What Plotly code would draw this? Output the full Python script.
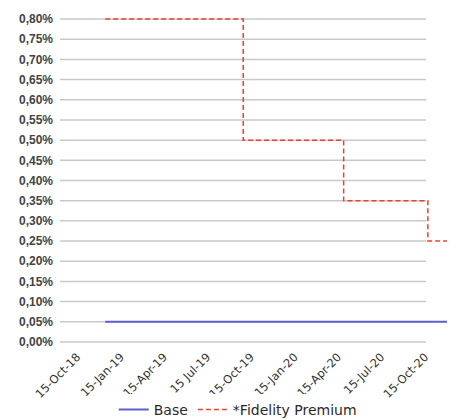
import plotly.graph_objects as go

# ---- data ----
tick_dates = ["2018-10-15", "2019-01-15", "2019-04-15", "2019-07-15", "2019-10-15",
              "2020-01-15", "2020-04-15", "2020-07-15", "2020-10-15"]
tick_labels = ["15-Oct-18", "15-Jan-19", "15-Apr-19", "15 Jul-19", "15-Oct-19",
               "15-Jan-20", "15-Apr-20", "15-Jul-20", "15-Oct-20"]

base_dates = ["2018-12-13", "2020-12-17"]
base_values = [0.0005, 0.0005]

fidelity_dates = ["2018-12-13", "2019-09-29", "2020-04-27", "2020-10-21", "2020-12-17"]
fidelity_values = [0.0080, 0.0050, 0.0035, 0.0025, 0.0025]

y_ticks = [i * 0.0005 for i in range(17)]

fig = go.Figure()
fig.add_trace(go.Scatter(x=base_dates, y=base_values, name="Base", mode="lines",
                         line=dict(color="#5b5fcf", width=2)))
fig.add_trace(go.Scatter(x=fidelity_dates, y=fidelity_values, name="*Fidelity Premium",
                         mode="lines",
                         line=dict(color="#e8412c", width=1.5, dash="5px,3px", shape="hv")))

shapes = []
for v in y_ticks:
    shapes.append(dict(type="line", xref="paper", yref="y", x0=0, x1=0.927, y0=v, y1=v,
                       line=dict(color="#c9c9c9", width=1.5), layer="below"))

fig.update_layout(
    width=447, height=411, autosize=False,
    margin=dict(l=52, r=0, t=6, b=72, autoexpand=False),
    paper_bgcolor="white", plot_bgcolor="white",
    separators=",.",
    shapes=shapes,
    showlegend=True,
    legend=dict(orientation="h", x=0.45, xanchor="center", yref="container", y=0.022,
                yanchor="middle", font=dict(family="DejaVu Sans", size=14, color="#2a2a2a"),
                itemwidth=30),
    xaxis=dict(type="date", range=["2018-09-09", "2020-12-17"], tickvals=tick_dates,
               ticktext=tick_labels, tickangle=-45, showgrid=False, zeroline=False,
               showline=False, ticks="", automargin=False,
               tickfont=dict(family="DejaVu Sans", size=11.5, color="#333333")),
    yaxis=dict(range=[-0.000124, 0.008124], tickvals=y_ticks, tickformat=".2%",
               showgrid=False, zeroline=False, showline=False, ticks="", automargin=False,
               ticklabelstandoff=6,
               tickfont=dict(family="Liberation Sans", size=12, color="#444444", weight="bold")),
)

fig.write_html("out.html")
